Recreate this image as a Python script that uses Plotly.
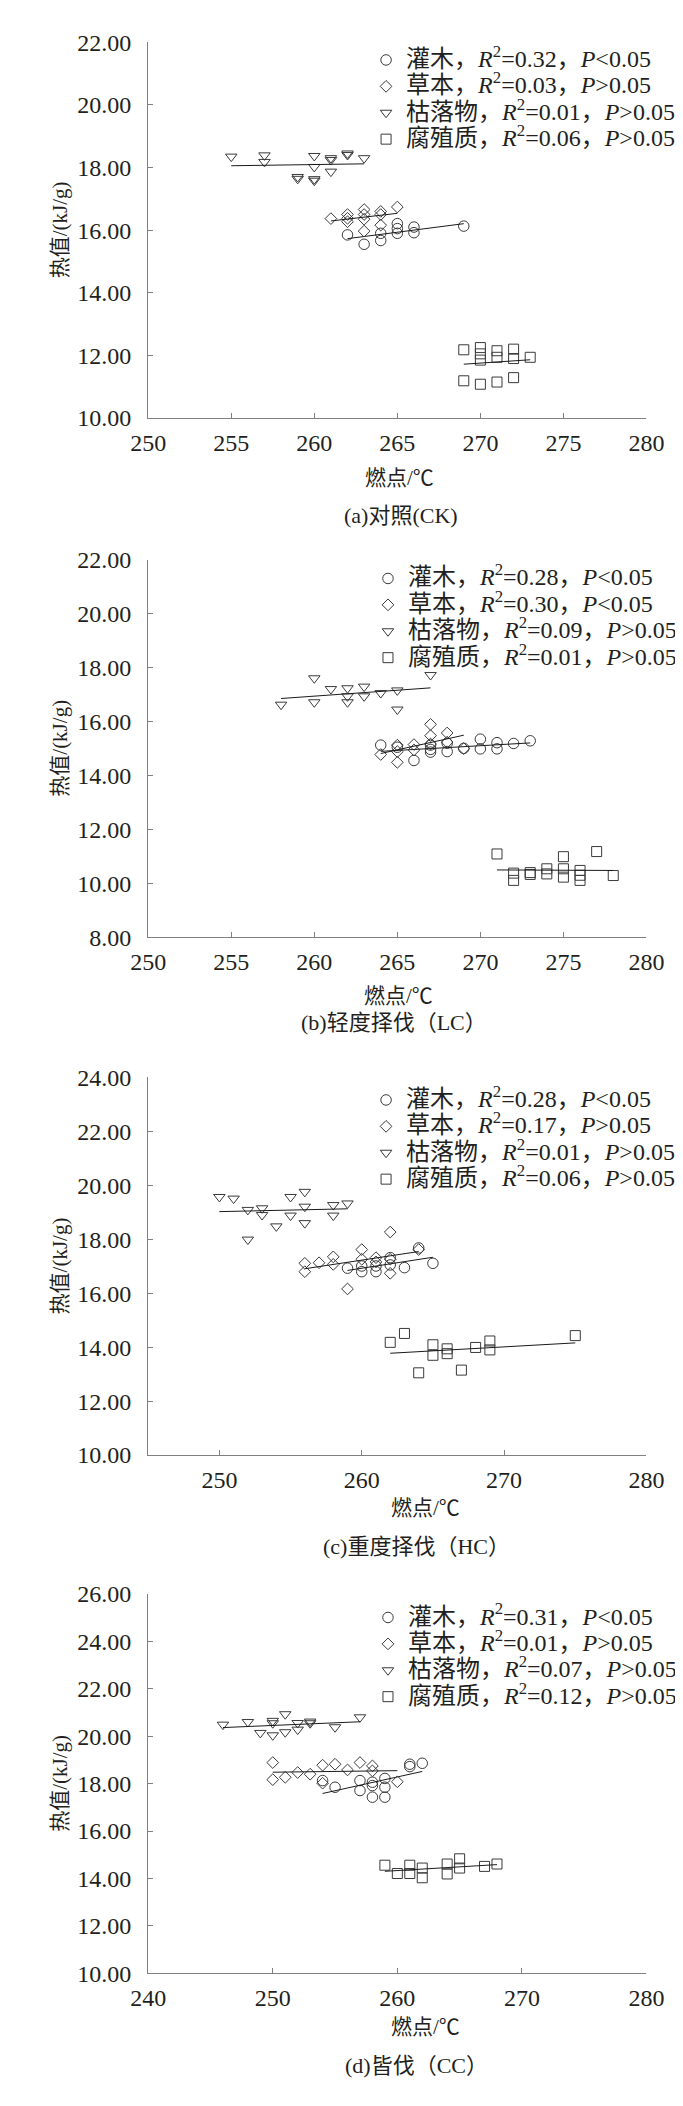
import numpy as np
import plotly.graph_objects as go

# -----------------------------
# Data (燃点 x, 热值 y)
# -----------------------------
# (a) 对照 CK
ck_shrub_x = [262, 263, 264, 264, 265, 265, 265, 266, 266, 269]
ck_shrub_y = [15.85, 15.55, 15.67, 15.90, 16.21, 15.90, 16.05, 16.10, 15.92, 16.13]
ck_herb_x = [261, 262, 262, 262, 263, 263, 263, 263, 264, 264, 264, 265]
ck_herb_y = [16.37, 16.50, 16.38, 16.27, 16.66, 16.50, 16.35, 15.97, 16.60, 16.50, 16.16, 16.74]
ck_litter_x = [255, 257, 257, 259, 259, 260, 260, 260, 260, 261, 261, 261, 262, 262, 263]
ck_litter_y = [18.35, 18.39, 18.18, 17.70, 17.64, 18.37, 18.02, 17.63, 17.58, 18.30, 18.24, 17.87, 18.45, 18.40, 18.30]
ck_humus_x = [269, 269, 270, 270, 270, 270, 271, 271, 271, 272, 272, 272, 273]
ck_humus_y = [12.18, 11.19, 12.25, 12.05, 11.85, 11.08, 12.15, 11.94, 11.15, 12.20, 11.90, 11.29, 11.94]

# (b) 轻度择伐 LC
lc_shrub_x = [264, 265, 266, 267, 267, 267, 268, 268, 269, 270, 270, 271, 271, 272, 273]
lc_shrub_y = [15.13, 15.05, 14.56, 15.13, 14.97, 14.87, 15.20, 14.89, 15.01, 15.35, 14.99, 15.22, 14.99, 15.19, 15.29]
lc_herb_x = [264, 265, 265, 265, 266, 266, 267, 267, 267, 268, 268, 269]
lc_herb_y = [14.78, 15.13, 14.89, 14.49, 15.15, 14.95, 15.90, 15.48, 15.17, 15.58, 15.24, 15.00]
lc_litter_x = [258, 260, 260, 261, 262, 262, 262, 263, 263, 264, 265, 265, 267]
lc_litter_y = [16.63, 17.61, 16.72, 17.21, 17.24, 16.94, 16.72, 17.30, 16.94, 17.06, 17.16, 16.45, 17.73]
lc_humus_x = [271, 272, 272, 273, 273, 274, 274, 275, 275, 275, 276, 276, 276, 277, 278]
lc_humus_y = [11.09, 10.38, 10.11, 10.40, 10.33, 10.54, 10.35, 10.99, 10.54, 10.23, 10.48, 10.30, 10.11, 11.18, 10.29]

# (c) 重度择伐 HC
hc_shrub_x = [259, 260, 260, 261, 261, 262, 262, 263, 264, 265]
hc_shrub_y = [16.93, 17.01, 16.80, 17.01, 16.80, 17.32, 17.05, 16.95, 17.68, 17.11]
hc_herb_x = [256, 256, 257, 258, 258, 259, 260, 260, 261, 261, 262, 262, 262, 264]
hc_herb_y = [17.11, 16.80, 17.13, 17.35, 17.07, 16.16, 17.62, 17.26, 17.32, 17.16, 18.27, 17.26, 16.74, 17.62]
hc_litter_x = [250, 251, 252, 252, 253, 253, 254, 255, 255, 256, 256, 256, 258, 258, 259]
hc_litter_y = [19.57, 19.51, 19.09, 17.99, 19.15, 18.90, 18.48, 19.57, 18.88, 19.76, 19.21, 18.60, 19.27, 18.88, 19.33]
hc_humus_x = [262, 263, 264, 265, 265, 266, 266, 267, 268, 269, 269, 275]
hc_humus_y = [14.18, 14.51, 13.05, 14.09, 13.70, 13.94, 13.76, 13.15, 13.99, 14.23, 13.90, 14.43]

# (d) 皆伐 CC
cc_shrub_x = [254, 255, 257, 257, 258, 258, 258, 259, 259, 259, 261, 261, 262]
cc_shrub_y = [18.13, 17.85, 18.13, 17.71, 18.06, 17.92, 17.43, 18.22, 17.85, 17.43, 18.82, 18.72, 18.86]
cc_herb_x = [250, 250, 251, 252, 253, 254, 254, 255, 256, 257, 258, 258, 260]
cc_herb_y = [18.89, 18.17, 18.27, 18.47, 18.40, 18.78, 18.02, 18.82, 18.58, 18.89, 18.75, 18.54, 18.08]
cc_litter_x = [246, 248, 249, 250, 250, 250, 251, 251, 252, 252, 253, 253, 255, 257]
cc_litter_y = [20.49, 20.60, 20.14, 20.65, 20.55, 20.04, 20.93, 20.17, 20.56, 20.28, 20.62, 20.55, 20.38, 20.80]
cc_humus_x = [259, 260, 261, 261, 262, 262, 264, 264, 265, 265, 267, 268]
cc_humus_y = [14.56, 14.21, 14.56, 14.21, 14.44, 14.03, 14.61, 14.19, 14.83, 14.44, 14.51, 14.61]

groups = ["灌木", "草本", "枯落物", "腐殖质"]
r2_ck = ["0.32", "0.03", "0.01", "0.06"]
r2_lc = ["0.28", "0.30", "0.09", "0.01"]
r2_hc = ["0.28", "0.17", "0.01", "0.06"]
r2_cc = ["0.31", "0.01", "0.07", "0.12"]
p_ck = ["<", ">", ">", ">"]
p_lc = ["<", "<", ">", ">"]
p_hc = ["<", ">", ">", ">"]
p_cc = ["<", ">", ">", ">"]

captions = ["(a)对照(CK)", "(b)轻度择伐（LC）", "(c)重度择伐（HC）", "(d)皆伐（CC）"]
x_ranges = [[250, 280], [250, 280], [245, 280], [240, 280]]
x_dticks = [5, 5, 10, 10]
y_ranges = [[10, 22], [8, 22], [10, 24], [10, 26]]

panels = [
    [(ck_shrub_x, ck_shrub_y), (ck_herb_x, ck_herb_y), (ck_litter_x, ck_litter_y), (ck_humus_x, ck_humus_y)],
    [(lc_shrub_x, lc_shrub_y), (lc_herb_x, lc_herb_y), (lc_litter_x, lc_litter_y), (lc_humus_x, lc_humus_y)],
    [(hc_shrub_x, hc_shrub_y), (hc_herb_x, hc_herb_y), (hc_litter_x, hc_litter_y), (hc_humus_x, hc_humus_y)],
    [(cc_shrub_x, cc_shrub_y), (cc_herb_x, cc_herb_y), (cc_litter_x, cc_litter_y), (cc_humus_x, cc_humus_y)],
]
r2s = [r2_ck, r2_lc, r2_hc, r2_cc]
ps = [p_ck, p_lc, p_hc, p_cc]

# -----------------------------
# Layout in pixels
# -----------------------------
W, H = 683, 2106
FONT = "Liberation Serif, Times New Roman, Noto Sans CJK SC"
TXT = "#231f20"
AX = "#808080"
MK = "#3a3a3a"
symbols = ["circle-open", "diamond-open", "triangle-down-open", "square-open"]
sizes = [10.5, 9, 10, 10]

plot_left, plot_right = 129, 655
plot_tb = [(21.6, 402), (545.7, 927.7), (1069.7, 1452), (1592.7, 1976.7)]
legend_pos = [(379, 34), (381, 559), (379, 1087), (381, 1611)]
xtitle_pos = [(394, 463), (393, 987), (422, 1506), (422, 2031)]
caption_pos = [(396, 501), (389, 1014), (412, 1545), (412, 2070)]


def px(x):
    return x / W


def py(y):
    return 1 - y / H


fig = go.Figure()
layout = dict(
    width=W, height=H, margin=dict(l=0, r=0, t=0, b=0),
    paper_bgcolor="white", plot_bgcolor="white",
    font=dict(family=FONT, color=TXT, size=20),
    annotations=[],
)

for i, groups_data in enumerate(panels):
    n = i + 1
    xa = "x" if n == 1 else f"x{n}"
    ya = "y" if n == 1 else f"y{n}"
    leg = "legend" if n == 1 else f"legend{n}"

    for j, (gx, gy) in enumerate(groups_data):
        sign = "&lt;" if ps[i][j] == "<" else "&gt;"
        name = (f'<span style="font-size:24px">{groups[j]}，<i>R</i><sup>2</sup>={r2s[i][j]}，'
                f'<i>P</i>{sign}0.05</span>')
        fig.add_trace(go.Scatter(
            x=gx, y=gy, mode="markers", name=name, xaxis=xa, yaxis=ya, legend=leg,
            marker=dict(symbol=symbols[j], size=sizes[j], color=MK, line=dict(width=1, color=MK)),
        ))
        # linear trend line over the group's range
        k, b = np.polyfit(gx, gy, 1)
        lx = np.array([min(gx), max(gx)])
        fig.add_trace(go.Scatter(
            x=lx, y=k * lx + b, mode="lines", showlegend=False, xaxis=xa, yaxis=ya,
            line=dict(color="#1a1a1a", width=1), hoverinfo="skip",
        ))

    top, bot = plot_tb[i]
    axis_common = dict(
        showline=True, linecolor=AX, linewidth=1.3, mirror=False,
        ticks="inside", ticklen=5, tickwidth=1.2, tickcolor=AX,
        showgrid=False, zeroline=False,
        tickfont=dict(family=FONT, size=24, color=TXT),
    )
    layout["xaxis" if n == 1 else f"xaxis{n}"] = dict(
        axis_common, domain=[px(plot_left), px(plot_right)], range=x_ranges[i],
        dtick=x_dticks[i], anchor=ya, ticklabelstandoff=3,
    )
    layout["yaxis" if n == 1 else f"yaxis{n}"] = dict(
        axis_common, domain=[py(bot), py(top)], range=y_ranges[i],
        dtick=2, tickformat=".2f", anchor=xa, ticklabelstandoff=11,
    )
    lx0, ly0 = legend_pos[i]
    layout[leg] = dict(
        x=px(lx0 - 20), y=py(ly0 - 13), xanchor="left", yanchor="top",
        bgcolor="rgba(0,0,0,0)", borderwidth=0,
        font=dict(family=FONT, size=18, color=TXT),
        itemclick=False, itemdoubleclick=False,
    )
    ann = dict(xref="paper", yref="paper", showarrow=False, xanchor="center", yanchor="middle")
    layout["annotations"] += [
        dict(ann, text="热值/(kJ/g)", x=px(36), y=py((top + bot) / 2), textangle=-90,
             font=dict(family=FONT, size=21, color=TXT)),
        dict(ann, text="燃点/℃", x=px(xtitle_pos[i][0]), y=py(xtitle_pos[i][1]),
             font=dict(family=FONT, size=21, color=TXT)),
        dict(ann, text=captions[i], x=px(caption_pos[i][0]), y=py(caption_pos[i][1]),
             font=dict(family=FONT, size=22, color=TXT)),
    ]

fig.update_layout(**layout)
fig.write_html("out.html")
